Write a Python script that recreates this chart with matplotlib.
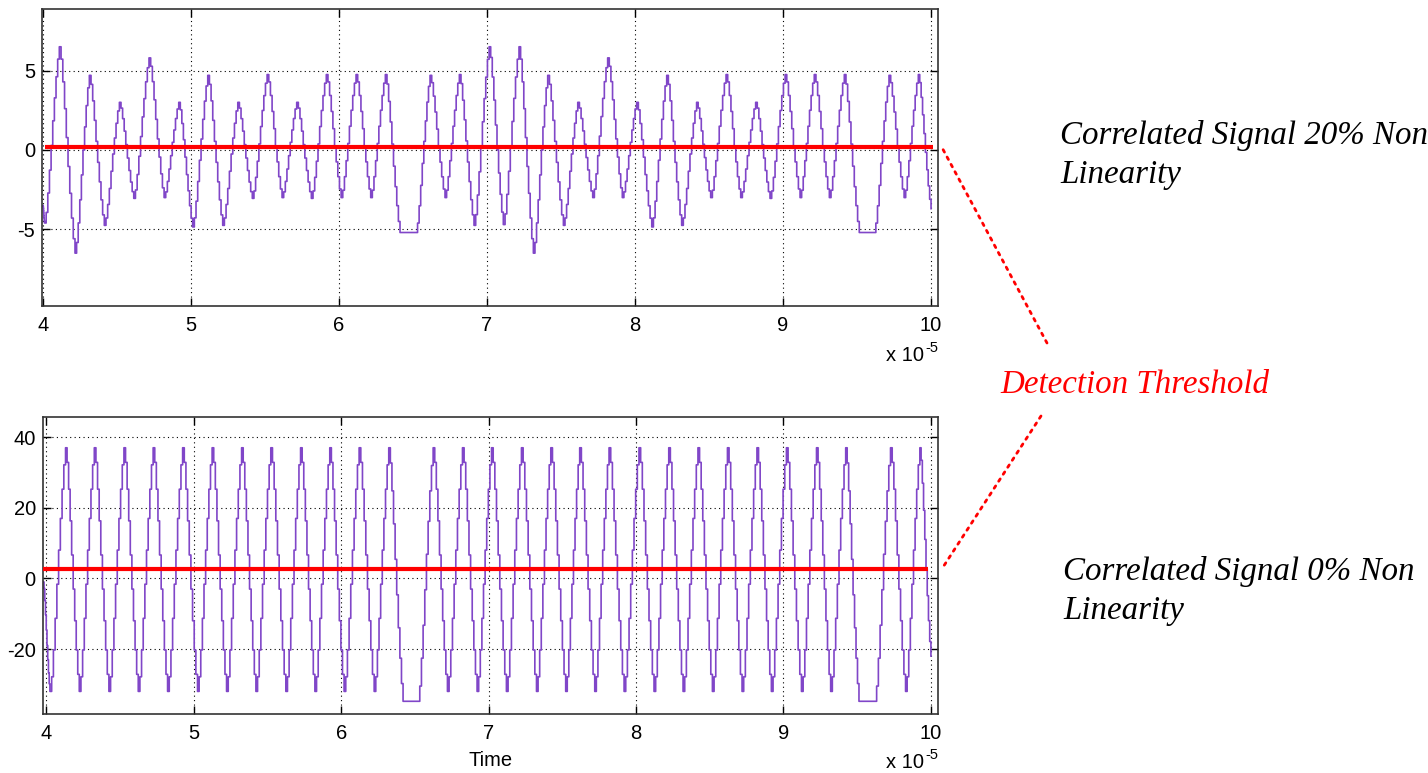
import numpy as np
import matplotlib.pyplot as plt
from matplotlib.ticker import FixedLocator

plt.rcParams.update({
    "font.family": "Liberation Sans",
    "font.size": 14.5,
    "axes.unicode_minus": False,
    "axes.linewidth": 1.2,
    "axes.edgecolor": "#333333",
    "xtick.direction": "in", "ytick.direction": "in",
    "xtick.top": True, "ytick.right": True,
    "xtick.major.size": 6, "ytick.major.size": 6,
    "xtick.major.width": 1.0, "ytick.major.width": 1.0,
})

SIG = "#8046c8"
RED = "#ff0000"

# turning points of the correlator output, time in units of 1e-5 s
top_t = [4.000, 4.010, 4.110, 4.216, 4.313, 4.414, 4.516, 4.613, 4.716, 4.818,
         4.917, 5.011, 5.113, 5.214, 5.316, 5.414, 5.514, 5.615, 5.714, 5.813,
         5.914, 6.014, 6.115, 6.214, 6.313, 6.412, 6.520, 6.615, 6.716, 6.813,
         6.912, 7.014, 7.110, 7.216, 7.313, 7.410, 7.516, 7.613, 7.714, 7.815,
         7.914, 8.011, 8.113, 8.214, 8.315, 8.416, 8.511, 8.615, 8.714, 8.815,
         8.912, 9.014, 9.115, 9.211, 9.313, 9.414, 9.515, 9.616, 9.716, 9.818,
         9.914, 10.000]
top_v = [-3.5, -4.6, 6.5, -6.5, 4.7, -4.75, 3.0, -3.05, 5.8, -3.0,
         3.0, -4.85, 4.7, -4.75, 3.0, -3.05, 4.75, -3.0, 3.0, -3.05,
         4.75, -3.0, 4.75, -3.0, 4.75, -5.2, -5.2, 4.7, -3.0, 4.75,
         -4.75, 6.5, -4.7, 6.5, -6.5, 4.7, -4.75, 3.0, -3.0, 5.8,
         -3.0, 3.0, -4.85, 4.7, -4.75, 3.0, -3.0, 4.75, -3.0, 3.0,
         -3.05, 4.75, -3.0, 4.75, -3.0, 4.75, -5.2, -5.2, 4.7, -3.0,
         4.75, -3.7]

bot_t = [3.980, 4.025, 4.131, 4.224, 4.326, 4.425, 4.527, 4.624, 4.725, 4.823,
         4.925, 5.026, 5.125, 5.223, 5.325, 5.422, 5.523, 5.625, 5.725, 5.822,
         5.923, 6.020, 6.122, 6.224, 6.323, 6.420, 6.522, 6.624, 6.721, 6.823,
         6.922, 7.020, 7.121, 7.223, 7.325, 7.422, 7.523, 7.618, 7.720, 7.817,
         7.919, 8.020, 8.122, 8.222, 8.319, 8.420, 8.518, 8.620, 8.719, 8.820,
         8.918, 9.020, 9.122, 9.224, 9.320, 9.422, 9.512, 9.620, 9.726, 9.828,
         9.925, 10.000]
bot_v = [-1.0, -32.0, 37.0, -32.0, 37.0, -32.0, 37.0, -32.0, 37.0, -32.0,
         37.0, -32.0, 37.0, -32.0, 37.0, -32.0, 37.0, -32.0, 37.0, -32.0,
         37.0, -32.0, 37.0, -32.0, 37.0, -34.8, -34.8, 37.0, -32.0, 37.0,
         -32.0, 37.0, -32.0, 37.0, -32.0, 37.0, -32.0, 37.0, -32.0, 37.0,
         -32.0, 37.0, -32.0, 37.0, -32.0, 37.0, -32.0, 37.0, -32.0, 37.0,
         -32.0, 37.0, -32.0, 37.0, -32.0, 37.0, -34.8, -34.8, 37.0, -32.0,
         37.0, -22.0]

# quantiser levels crossed on one edge, as fraction of the swing
STEP_FRAC = [0.0, 0.06, 0.17, 0.30, 0.44, 0.58, 0.71, 0.83, 0.93, 1.0]

THRESH_TOP = 0.2
THRESH_BOT = 2.7


def staircase(t, v):
    n = len(STEP_FRAC) - 1
    ts, vs = [], []
    for t0, v0, t1, v1 in zip(t[:-1], v[:-1], t[1:], v[1:]):
        for j in range(n):
            ts.append(t0 + (t1 - t0) * j / n)
            vs.append(v0 + (v1 - v0) * STEP_FRAC[j])
    ts.append(t[-1]); vs.append(v[-1])
    return np.array(ts), np.array(vs)


def style(ax, xlim, ylim, yticks):
    ax.set_xlim(*xlim); ax.set_ylim(*ylim)
    ax.xaxis.set_major_locator(FixedLocator(range(4, 11)))
    ax.yaxis.set_major_locator(FixedLocator(yticks))
    ax.grid(True, color="k", linestyle=(0, (1, 3)), linewidth=0.8)
    ax.tick_params(axis="x", pad=7)
    ax.tick_params(axis="y", pad=5)


fig = plt.figure(figsize=(14.28, 7.73), dpi=100)
W, H = 1428, 773
ax1 = fig.add_axes([42 / W, 1 - 306 / H, 896 / W, 297 / H])
ax2 = fig.add_axes([42.7 / W, 1 - 714 / H, 895.6 / W, 297.3 / H])

ts, vs = staircase(top_t, top_v)
ax1.step(ts, vs, where="post", color=SIG, lw=1.2)
ax1.hlines(THRESH_TOP, 4.01, 10.01, color=RED, lw=3, zorder=4, clip_on=False)
style(ax1, (3.993, 10.047), (-9.83, 8.88), [-5, 0, 5])

ts, vs = staircase(bot_t, bot_v)
ax2.step(ts, vs, where="post", color=SIG, lw=1.2)
ax2.hlines(THRESH_BOT, 3.975, 9.98, color=RED, lw=3, zorder=4, clip_on=False)
style(ax2, (3.976, 10.05), (-38.4, 45.8), [-20, 0, 20, 40])
ax2.set_xlabel("Time", labelpad=6)

# axis multiplier under each panel
for y in (361, 768):
    fig.text(924 / W, 1 - y / H, "x 10", ha="right", va="baseline", fontsize=14.5)
    fig.text(925 / W, 1 - (y - 9) / H, "-5", ha="left", va="baseline", fontsize=10.5)

serif = dict(family="Liberation Serif", style="italic", fontsize=23.8)
fig.text(1060 / W, 1 - 155 / H, "Correlated Signal 20% Non\nLinearity", va="center",
         ha="left", linespacing=1.35, **serif)
fig.text(1063 / W, 1 - 591 / H, "Correlated Signal 0% Non\nLinearity", va="center",
         ha="left", linespacing=1.35, **serif)
fig.text(1000 / W, 1 - 385 / H, "Detection Threshold", color=RED, va="center", ha="left",
         **serif)

# dotted leaders from the threshold lines to the label
dots = dict(arrowstyle="-", color=RED, linestyle=(0, (1, 2)), lw=2, shrinkA=0, shrinkB=0)
ax1.annotate("", xy=(1.004, THRESH_TOP), xycoords=ax1.get_yaxis_transform(),
             xytext=(1047 / W, 1 - 343 / H), textcoords="figure fraction", arrowprops=dots)
ax2.annotate("", xy=(1.004, THRESH_BOT), xycoords=ax2.get_yaxis_transform(),
             xytext=(1041 / W, 1 - 416 / H), textcoords="figure fraction", arrowprops=dots)

fig.savefig("out.png", dpi=100, facecolor="white")
